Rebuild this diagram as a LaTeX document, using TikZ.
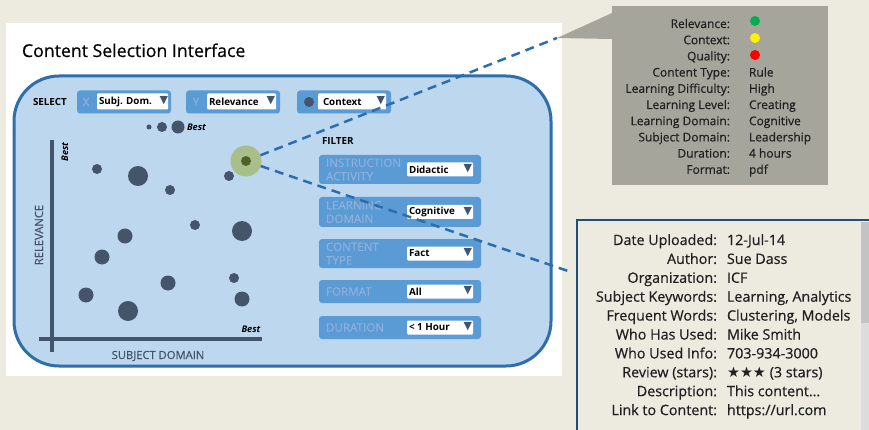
\documentclass[tikz,border=0pt]{standalone}
\usepackage{fontspec}
\setmainfont{Open Sans}[UprightFeatures={FakeBold=0.5}]
\newfontfamily\symfont{DejaVu Sans}

\definecolor{pagebg}{HTML}{EDEBE0}
\definecolor{canvasfill}{HTML}{BDD7EE}
\definecolor{canvasline}{HTML}{2F6EA8}
\definecolor{ctrlfill}{HTML}{5B9BD5}
\definecolor{ctrltext}{HTML}{8EB0DA}
\definecolor{slate}{HTML}{44546A}
\definecolor{halo}{HTML}{A9BF8A}
\definecolor{halocore}{HTML}{4F6228}
\definecolor{dashblue}{HTML}{2A6EB0}
\definecolor{tipgray}{HTML}{A5A59C}
\definecolor{infoline}{HTML}{1F4E79}
\definecolor{inktext}{HTML}{202020}
\definecolor{thumb}{HTML}{C3C3C3}
\definecolor{track}{HTML}{DCDCDC}
\definecolor{goodgreen}{HTML}{00B050}

\begin{document}
\begin{tikzpicture}[x=1pt,y=-1pt,
  every node/.style={inner sep=0pt, outer sep=0pt},
  ctrlbox/.style={fill=ctrlfill, rounded corners=3pt, minimum height=23pt},
  field/.style={fill=white, rounded corners=1pt, minimum height=16pt},
  fieldtxt/.style={anchor=west, font=\fontsize{9.8}{10}\selectfont\bfseries, text=black},
  arrowtxt/.style={anchor=east, font=\symfont\fontsize{11}{11}\selectfont, text=slate},
  ctrllab/.style={font=\fontsize{11.6}{13.5}\selectfont, text=ctrltext, align=left},
  smallbold/.style={font=\fontsize{9.8}{11}\selectfont\bfseries, text=black},
  besttxt/.style={font=\fontsize{9.2}{10}\selectfont\bfseries\itshape, text=black},
  axistxt/.style={font=\fontsize{11.2}{13}\selectfont, text=slate},
  axisline/.style={draw=slate, line width=3.5pt},
  dot/.style={circle, fill=slate},
  link/.style={draw=dashblue, line width=2.5pt, dash pattern=on 9pt off 6pt},
  metalab/.style={anchor=base east, font=\fontsize{12}{14}\selectfont, text=inktext},
  metaval/.style={anchor=base west, font=\fontsize{12}{14}\selectfont, text=inktext},
  infolab/.style={anchor=base east, font=\fontsize{14.3}{16}\selectfont, text=inktext},
  infoval/.style={anchor=base west, font=\fontsize{14.3}{16}\selectfont, text=inktext}]

\useasboundingbox (0,0) rectangle (869,430);
\clip (0,0) rectangle (869,430);
\fill[pagebg] (0,0) rectangle (869,430);

% white slide panel and its title
\node[fill=white, minimum width=556pt, minimum height=352pt] (panel) at (284,199.5) {};
\node[anchor=base west, font=\fontsize{17.7}{20}\selectfont, text=black] (title) at (22,57) {Content Selection Interface};

% rounded canvas of the interface
\node[fill=canvasfill, draw=canvasline, line width=3pt, rounded corners=45pt,
      minimum width=537pt, minimum height=290pt] (canvas) at (282.5,221) {};

% SELECT row
\node[smallbold, anchor=west] (select) at (33,102) {SELECT};

\node[ctrlbox, minimum width=94pt] (xbox) at (124,102) {};
\node[font=\fontsize{11.5}{12}\selectfont, text=ctrltext] (xlab) at (86,102) {X};
\node[field, minimum width=71pt] (xfield) at (132.5,101.5) {};
\node[fieldtxt] (xval) at (99,102) {Subj. Dom.};
\node[arrowtxt] (xarr) at (168,101) {▼};

\node[ctrlbox, minimum width=94pt] (ybox) at (233,102) {};
\node[font=\fontsize{11.5}{12}\selectfont, text=ctrltext] (ylab) at (196,102) {Y};
\node[field, minimum width=69pt] (yfield) at (241.5,101.5) {};
\node[fieldtxt] (yval) at (209,102) {Relevance};
\node[arrowtxt] (yarr) at (275,101) {▼};

\node[ctrlbox, minimum width=94pt] (cbox) at (344,102) {};
\node[dot, minimum size=10pt] (cdot) at (309,102) {};
\node[field, minimum width=68pt] (cfield) at (352,101.5) {};
\node[fieldtxt] (cval) at (323,102) {Context};
\node[arrowtxt] (carr) at (385,101) {▼};

% bubble-size legend
\node[dot, minimum size=5pt] (lg1) at (149,127) {};
\node[dot, minimum size=10pt] (lg2) at (162,127) {};
\node[dot, minimum size=13pt] (lg3) at (178,127) {};
\node[besttxt, anchor=west] (lgbest) at (187,127) {Best};

% scatter plot axes
\coordinate (ytop) at (52,140);
\coordinate (ybot) at (52,352);
\coordinate (xleft) at (39,339);
\coordinate (xright) at (262,339);
\draw[axisline] (ytop) -- (ybot);
\draw[axisline] (xleft) -- (xright);
\node[besttxt, rotate=90] (ybest) at (65,152) {Best};
\node[besttxt] (xbest) at (251,329) {Best};
\node[axistxt, rotate=90] (ylabel) at (39,235) {RELEVANCE};
\node[axistxt] (xlabel) at (158,356) {SUBJECT DOMAIN};

% content items
\foreach \px/\py/\d [count=\i] in {
   97/169/10, 138/176/20, 170/190/10, 229/176/10,
   195/225/10, 242/231/20, 125/236/15, 102/257/15,
   168/283/15, 234/278/10, 242/299/15, 86/295/15, 128/311/20}
  \node[dot, minimum size=\d pt] (item\i) at (\px,\py) {};

% selected item
\node[circle, fill=halo, minimum size=31pt] (hl) at (246,161) {};
\node[circle, fill=halocore, minimum size=10pt] (hlcore) at (246,161) {};

% FILTER column
\node[smallbold, anchor=west] (filter) at (322,141) {FILTER};

\foreach \cy/\lab/\val/\h [count=\i] in {
    169.5/{INSTRUCTION\\ACTIVITY}/Didactic/29,
    212/{LEARNING\\DOMAIN}/Cognitive/30,
    253.5/{CONTENT\\TYPE}/Fact/29,
    291.5/FORMAT/All/23,
    327.5/DURATION/{< 1 Hour}/23} {
  \node[ctrlbox, minimum width=162pt, minimum height=\h pt] (fbox\i) at (400,\cy) {};
  \node[ctrllab, anchor=west] (flab\i) at (326,\cy) {\lab};
  \node[field, minimum width=66pt, minimum height=14pt] (ffield\i) at (440,\cy) {};
  \node[fieldtxt] (fval\i) at (409,\cy) {\val};
  \node[arrowtxt] (farr\i) at (472,\cy-0.5) {▼};
}

% metadata callout
\coordinate (tip) at (557,38);
\node[fill=tipgray, minimum width=216pt, minimum height=179pt] (meta) at (720,95.5) {};
\fill[tipgray] (612,13) -- (tip) -- (612,39) -- cycle;

\foreach \lab/\val [count=\i from 0] in {
    Relevance:/{}, Context:/{}, Quality:/{},
    Content Type:/Rule, Learning Difficulty:/High, Learning Level:/Creating,
    Learning Domain:/Cognitive, Subject Domain:/Leadership,
    Duration:/4 hours, Format:/pdf} {
  \node[metalab] (ml\i) at (730,28+16.2*\i) {\lab};
  \node[metaval] (mv\i) at (749,28+16.2*\i) {\val};
}
\node[circle, fill=goodgreen, minimum size=10pt] (relgood) at (755,21) {};
\node[circle, fill=yellow, minimum size=10pt] (ctxok) at (755,38) {};
\node[circle, fill=red, minimum size=10pt] (qualbad) at (755,55) {};

% detail panel with scrollbar
\node[fill=pagebg, draw=infoline, line width=1.5pt, anchor=north west,
      minimum width=320pt, minimum height=230pt] (info) at (577,220) {};
\node[fill=track, anchor=north west, minimum width=12pt, minimum height=215pt] (track) at (861,222) {};
\node[fill=thumb, anchor=north west, minimum width=12pt, minimum height=101pt] (thumb) at (861,222) {};

\foreach \lab/\val [count=\i from 0] in {
    Date Uploaded:/12-Jul-14, Author:/Sue Dass, Organization:/ICF,
    Subject Keywords:/{Learning, Analytics}, Frequent Words:/{Clustering, Models},
    Who Has Used:/Mike Smith, Who Used Info:/703-934-3000,
    Review (stars):/{{\symfont\fontsize{14.5}{14}\selectfont ★★★} (3 stars)},
    Description:/{This content\dots}, Link to Content:/{https://url.com}} {
  \node[infolab] (il\i) at (717,245+18.9*\i) {\lab};
  \node[infoval] (iv\i) at (727,245+18.9*\i) {\val};
}

% links from the selected item to its details
\coordinate (infoend) at (568,271);
\draw[link] (hl) -- (tip);
\draw[link] (hl) -- (infoend);

\end{tikzpicture}
\end{document}
